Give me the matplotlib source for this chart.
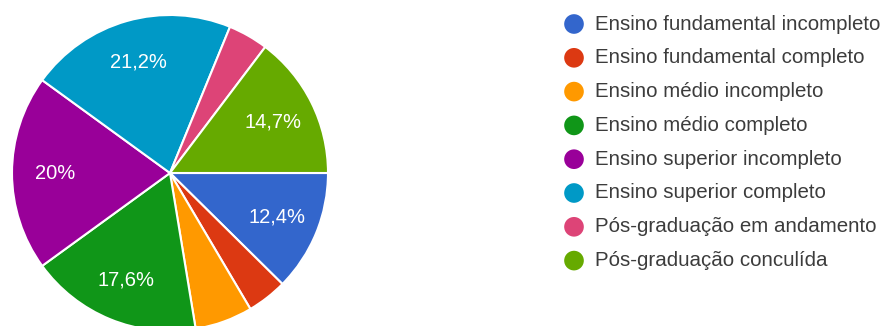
import matplotlib.pyplot as plt

#%% Data
labels = ['Ensino fundamental incompleto',
          'Ensino fundamental completo',
          'Ensino médio incompleto',
          'Ensino médio completo',
          'Ensino superior incompleto',
          'Ensino superior completo',
          'Pós-graduação em andamento',
          'Pós-graduação conculída']
shares = [12.4, 4.1, 5.9, 17.6, 20.0, 21.2, 4.1, 14.7]
colors = ['#3366cc', '#dc3912', '#ff9900', '#109618',
          '#990099', '#0099c6', '#dd4477', '#66aa00']

plt.rcParams['font.family'] = ['Liberation Sans', 'DejaVu Sans']

W, H = 892, 326
fig = plt.figure(figsize=(W / 100, H / 100), dpi=100)


def fmt(pct):
    # google style: hide small slices, decimal comma
    if pct < 10:
        return ''
    txt = f'{pct:.1f}'
    if txt.endswith('.0'):
        txt = txt[:-2]
    return txt.replace('.', ',') + '%'


#%% Pie (center ~ (170, 173) px, radius ~158 px)
r = 158
cx, cy = 170, 173
ax = fig.add_axes([(cx - r) / W, (H - cy - r) / H, 2 * r / W, 2 * r / H])
wedges, texts, autotexts = ax.pie(shares,
                                  colors=colors,
                                  startangle=0,
                                  counterclock=False,
                                  autopct=fmt,
                                  pctdistance=0.73,
                                  wedgeprops=dict(edgecolor='white', linewidth=1.5),
                                  textprops=dict(color='white', fontsize=14.5))
ax.set_xlim(-1, 1)
ax.set_ylim(-1, 1)
ax.set_aspect('equal')

#%% Legend drawn in pixel coordinates
lax = fig.add_axes([0, 0, 1, 1])
lax.set_xlim(0, W)
lax.set_ylim(H, 0)
lax.axis('off')

y0, dy = 24, 33.8
for i, (lab, col) in enumerate(zip(labels, colors)):
    y = y0 + i * dy
    lax.scatter(574, y, s=200, color=col, edgecolors='none')
    lax.text(595, y, lab, va='center', ha='left', fontsize=14.8, color='#3c3c3c')

fig.savefig('out.png', dpi=100)
